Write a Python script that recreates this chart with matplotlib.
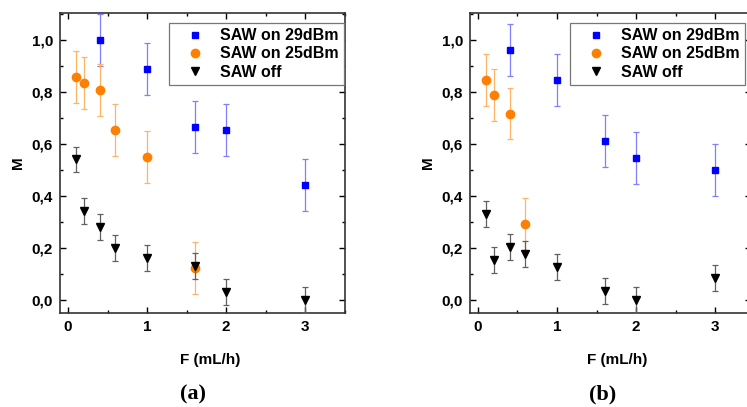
import matplotlib
matplotlib.use('Agg')
import matplotlib.pyplot as plt
from matplotlib.ticker import MultipleLocator, FuncFormatter

plt.rcParams['font.family'] = ['Liberation Sans', 'DejaVu Sans']
plt.rcParams['font.weight'] = 'bold'

# panel (a)
a_x29 = [0.4, 1.0, 1.6, 2.0, 3.0]
a_y29 = [1.00, 0.888, 0.667, 0.654, 0.441]
a_x25 = [0.1, 0.2, 0.4, 0.6, 1.0, 1.6]
a_y25 = [0.86, 0.837, 0.808, 0.654, 0.551, 0.122]
a_xoff = [0.1, 0.2, 0.4, 0.6, 1.0, 1.6, 2.0, 3.0]
a_yoff = [0.541, 0.343, 0.280, 0.201, 0.163, 0.131, 0.029, 0.0]

# panel (b)
b_x29 = [0.4, 1.0, 1.6, 2.0, 3.0]
b_y29 = [0.962, 0.846, 0.611, 0.546, 0.501]
b_x25 = [0.1, 0.2, 0.4, 0.6]
b_y25 = [0.847, 0.791, 0.718, 0.293]
b_xoff = [0.1, 0.2, 0.4, 0.6, 1.0, 1.6, 2.0, 3.0]
b_yoff = [0.330, 0.155, 0.203, 0.179, 0.127, 0.036, 0.0, 0.086]

err_on = 0.1
err_off = 0.05

W, H = 747, 407
fig = plt.figure(figsize=(W / 100, H / 100), dpi=100)
ax1 = fig.add_axes([60/W, 94/H, 285/W, 300/H])
ax2 = fig.add_axes([470/W, 94/H, 281/W, 300/H])

def comma(v, pos):
    return ('%.1f' % v).replace('.', ',')

def panel(ax, x29, y29, x25, y25, xoff, yoff, xmax, leg_x):
    ax.errorbar(x29, y29, yerr=err_on, fmt='s', color='#0000ff', ms=4.5,
                ecolor='#7f7fff', elinewidth=0.9, capsize=2.3, capthick=0.9,
                label='SAW on 29dBm', zorder=3)
    ax.errorbar(x25, y25, yerr=err_on, fmt='o', color='#ff8000', ms=6,
                ecolor='#ffb366', elinewidth=0.9, capsize=2.3, capthick=0.9,
                label='SAW on 25dBm', zorder=3)
    ax.errorbar(xoff, yoff, yerr=err_off, fmt='v', color='black', ms=6,
                ecolor='#606060', elinewidth=0.9, capsize=2.3, capthick=0.9,
                label='SAW off', zorder=4)
    ax.set_xlim(-0.1, xmax)
    ax.set_ylim(-0.05, 1.105)
    ax.xaxis.set_major_locator(MultipleLocator(1))
    ax.xaxis.set_minor_locator(MultipleLocator(0.5))
    ax.yaxis.set_major_locator(MultipleLocator(0.2))
    ax.yaxis.set_minor_locator(MultipleLocator(0.1))
    ax.yaxis.set_major_formatter(FuncFormatter(comma))
    ax.tick_params(which='both', direction='in', top=True, right=True,
                   width=1.0, labelsize=11)
    ax.tick_params(which='major', length=4, pad=5)
    ax.tick_params(which='minor', length=2.5)
    for s in ax.spines.values():
        s.set_linewidth(1.2)
        s.set_color('#333333')
    for lbl in ax.get_xticklabels() + ax.get_yticklabels():
        lbl.set_fontweight('bold')
    ax.set_ylabel('M', fontsize=11, fontweight='bold', labelpad=5)
    handles, labels = ax.get_legend_handles_labels()
    handles = [h[0] for h in handles]
    leg = ax.legend(handles, labels, loc='upper right',
                    bbox_to_anchor=(leg_x, 0.968),
                    fancybox=False, edgecolor='#777777', framealpha=1,
                    borderpad=0.35, handletextpad=0.25, labelspacing=0.2,
                    handlelength=2.6, borderaxespad=0,
                    prop={'weight': 'bold', 'size': 11.5})
    leg.get_frame().set_linewidth(0.9)

panel(ax1, a_x29, a_y29, a_x25, a_y25, a_xoff, a_yoff, 3.5, (344 - 60) / 285)
panel(ax2, b_x29, b_y29, b_x25, b_y25, b_xoff, b_yoff, 3.45, (745 - 470) / 281)

for xc in (210, 617):
    fig.text(xc / W, 1 - 360 / H, 'F (mL/h)', ha='center', va='center',
             fontsize=11, fontweight='bold')

fig.text(193 / W, 1 - 394 / H, '(a)', ha='center', va='center', fontsize=16,
         fontweight='bold', family=['Liberation Serif', 'DejaVu Serif'])
fig.text(603 / W, 1 - 394 / H, '(b)', ha='center', va='center', fontsize=16,
         fontweight='bold', family=['Liberation Serif', 'DejaVu Serif'])

fig.savefig('out.png', dpi=100)
